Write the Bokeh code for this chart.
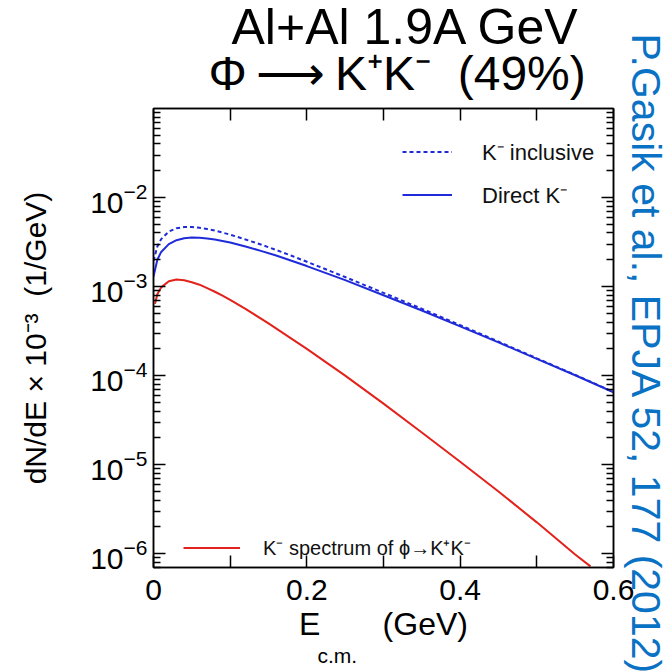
import math
from bokeh.plotting import figure
from bokeh.models import (FixedTicker, LogAxis, LinearAxis, Legend, LegendItem, Title,
                          Range1d, CustomJSTickFormatter)
from bokeh.embed import file_html
from bokeh.resources import INLINE

# ---------------- data ----------------
e_direct = [0, 0.005, 0.01, 0.02, 0.03, 0.04, 0.05, 0.06, 0.07, 0.08, 0.09, 0.10, 0.12, 0.14,
            0.16, 0.18, 0.20, 0.25, 0.30, 0.35, 0.40, 0.45, 0.50, 0.55, 0.60]
direct = [1.3e-3, 2.0e-3, 2.45e-3, 3.0e-3, 3.32e-3, 3.49e-3, 3.55e-3, 3.53e-3, 3.47e-3,
          3.37e-3, 3.25e-3, 3.12e-3, 2.82e-3, 2.52e-3, 2.23e-3, 1.95e-3, 1.70e-3, 1.18e-3,
          8.0e-4, 5.39e-4, 3.58e-4, 2.36e-4, 1.54e-4, 1.01e-4, 6.5e-5]
inclusive = [1.94e-3, 2.82e-3, 3.41e-3, 4.15e-3, 4.52e-3, 4.67e-3, 4.67e-3, 4.58e-3, 4.43e-3,
             4.25e-3, 4.04e-3, 3.83e-3, 3.38e-3, 2.97e-3, 2.58e-3, 2.22e-3, 1.90e-3, 1.28e-3,
             8.5e-4, 5.63e-4, 3.69e-4, 2.41e-4, 1.565e-4, 1.02e-4, 6.55e-5]
e_phi = [0.002, 0.005, 0.01, 0.02, 0.03, 0.04, 0.05, 0.06, 0.07, 0.08, 0.09, 0.10, 0.12, 0.15,
         0.20, 0.25, 0.30, 0.35, 0.40, 0.45, 0.50, 0.55, 0.57]
phi = [6.4e-4, 8.2e-4, 9.8e-4, 1.15e-3, 1.2e-3, 1.18e-3, 1.12e-3, 1.05e-3, 9.6e-4, 8.75e-4,
       7.9e-4, 7.08e-4, 5.62e-4, 3.87e-4, 2.0e-4, 1.0e-4, 4.85e-5, 2.3e-5, 1.08e-5, 5.0e-6,
       2.25e-6, 9.8e-7, 7.2e-7]

x_major = [0, 0.2, 0.4, 0.6]
x_minor = [0.1, 0.3, 0.5]
y_exponents = [-6, -5, -4, -3, -2]

title1 = "Al+Al 1.9A GeV"
title2 = "Φ\u2009⟶\u2009K⁺K⁻\u00a0\u00a0(49%)"
ylabel = "dN/dE × 10⁻³\u00a0\u00a0(1/GeV)"
xlabel_main = "E" + "\u00a0" * 7 + "(GeV)"
xlabel_sub = "c.m."
legend_incl = "K⁻ inclusive"
legend_direct = "Direct K⁻"
legend_phi = "K⁻ spectrum of ϕ→K⁺K⁻"
citation = "P.Gasik et al., EPJA 52, 177 (2012)"

# ---------------- layout ----------------
W, H = 669, 672
L, R, T, B = 153, 56, 108, 105
FONT = "Liberation Sans"
BLUE = "#1f2bd8"
RED = "#e3221b"
CITE = "#0a72c4"

p = figure(width=W, height=H, x_range=Range1d(0, 0.6), y_range=Range1d(7e-7, 0.1),
           y_axis_type="log", output_backend="svg", toolbar_location=None,
           min_border_left=L, min_border_right=R, min_border_top=T, min_border_bottom=B)
p.grid.visible = False
p.outline_line_color = "black"
p.outline_line_width = 1.5
p.background_fill_color = "white"
p.border_fill_color = "white"

blank = CustomJSTickFormatter(code="return ''")
y_minor = [k * 10.0 ** e for e in range(-7, -1) for k in range(2, 10)]
y_minor = [v for v in y_minor if 7e-7 <= v <= 0.1]
y_major = [10.0 ** e for e in y_exponents]

def style_axis(ax, ticker, minor_len):
    ax.ticker = ticker
    ax.major_tick_in = 12
    ax.major_tick_out = 0
    ax.minor_tick_in = minor_len
    ax.minor_tick_out = 0
    ax.axis_line_color = "black"
    ax.axis_line_width = 1.5
    ax.major_tick_line_width = 1.5
    ax.minor_tick_line_width = 1.5
    ax.major_label_text_font = FONT
    ax.major_label_text_font_size = "30px"
    ax.major_label_text_color = "black"
    ax.axis_label_text_font = FONT
    ax.axis_label_text_font_style = "normal"
    ax.axis_label_text_color = "black"

def spacer(px):
    return Title(text="\u00a0", text_font_size="1px", standoff=px, text_color="white")

# bottom axis
bx = p.xaxis[0]
style_axis(bx, FixedTicker(ticks=x_major, minor_ticks=x_minor), 12)
bx.formatter = CustomJSTickFormatter(code="return tick == 0 ? '0' : tick.toFixed(1)")
bx.major_label_standoff = 12
bx.axis_label = xlabel_main
bx.axis_label_text_font_size = "32px"
bx.axis_label_standoff = 3

# left axis
ly = p.yaxis[0]
style_axis(ly, FixedTicker(ticks=y_major, minor_ticks=y_minor), 7)
ly.major_label_standoff = 6
ly.axis_label = ylabel
ly.axis_label_text_font_size = "30px"
ly.axis_label_standoff = 35

# top axis (ticks only)
top = LinearAxis()
style_axis(top, FixedTicker(ticks=x_major, minor_ticks=x_minor), 12)
top.formatter = blank
top.major_label_text_font_size = "1px"
top.major_label_standoff = 0
p.add_layout(top, "above")

# right axis (ticks only)
right = LogAxis()
style_axis(right, FixedTicker(ticks=y_major, minor_ticks=y_minor), 7)
right.formatter = blank
right.major_label_text_font_size = "1px"
right.major_label_standoff = 13
p.add_layout(right, "right")

# ---------------- curves ----------------
r_incl = p.line(e_direct, inclusive, line_color=BLUE, line_width=2, line_dash="4 3")
r_dir = p.line(e_direct, direct, line_color=BLUE, line_width=2)
r_phi = p.line(e_phi, phi, line_color=RED, line_width=2)

leg1 = Legend(items=[LegendItem(label=legend_incl, renderers=[r_incl]),
                     LegendItem(label=legend_direct, renderers=[r_dir])],
              location=(249, 358), orientation="vertical",
              glyph_width=50, glyph_height=25, label_height=25, label_standoff=30,
              spacing=13, padding=0, margin=0, border_line_color=None,
              background_fill_alpha=0, label_text_font=FONT, label_text_font_size="22px",
              label_text_color="#111111")
leg2 = Legend(items=[LegendItem(label=legend_phi, renderers=[r_phi])],
              location=(30, 6), orientation="vertical",
              glyph_width=57, glyph_height=25, label_height=25, label_standoff=23,
              spacing=0, padding=0, margin=0, border_line_color=None,
              background_fill_alpha=0, label_text_font=FONT, label_text_font_size="20px",
              label_text_color="#111111")
p.add_layout(leg1)
p.add_layout(leg2)

# ---------------- titles ----------------
t2 = Title(text=title2, align="left", offset=55, text_font=FONT, text_font_size="48px",
           text_font_style="normal", text_color="black", standoff=11)
t1 = Title(text=title1, align="left", offset=78, text_font=FONT, text_font_size="50px",
           text_font_style="normal", text_color="black", standoff=-30)
p.add_layout(spacer(0), "above")
p.add_layout(t2, "above")
p.add_layout(t1, "above")

sub = Title(text=xlabel_sub, align="left", offset=164, text_font=FONT, text_font_size="21px",
            text_font_style="normal", text_color="black", standoff=-6, vertical_align="bottom")
p.add_layout(sub, "below")

cite = Title(text=citation, align="left", offset=-75, text_font=FONT, text_font_size="41px",
             text_font_style="normal", text_color=CITE, standoff=-10)
p.add_layout(spacer(11), "right")
p.add_layout(cite, "right")

open("out.html", "w").write(file_html(p, INLINE))
